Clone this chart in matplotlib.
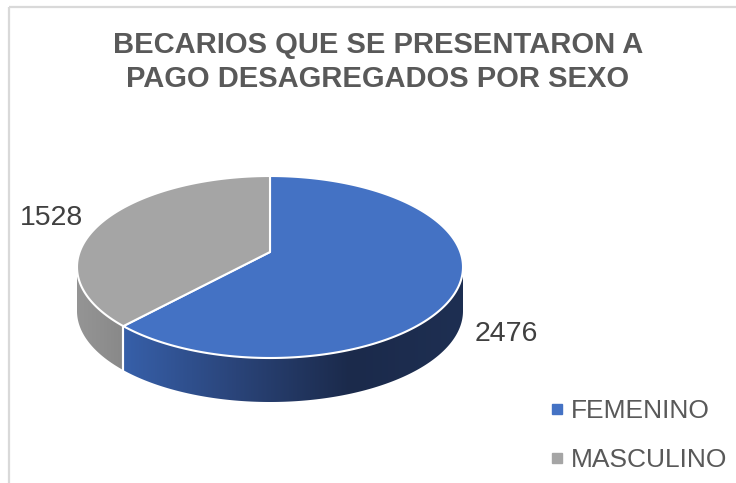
import numpy as np
import matplotlib
matplotlib.use("Agg")
import matplotlib.pyplot as plt
from matplotlib.patches import Polygon, Rectangle
from matplotlib.lines import Line2D
from matplotlib.colors import to_rgb

# ---- data ----
categories = ["FEMENINO", "MASCULINO"]
values = [2476, 1528]
title = "BECARIOS QUE SE PRESENTARON A\nPAGO DESAGREGADOS POR SEXO"

top_colors = ["#4472c4", "#a5a5a5"]
# wall gradient (left -> right) per slice
wall_grad = {0: ["#3760aa", "#2a4479", "#1b2a4b", "#1e2f52"],
             1: ["#959595", "#8f8f8f", "#888888"]}

W, H = 736, 483
fig = plt.figure(figsize=(W / 100, H / 100), dpi=100)
ax = fig.add_axes([0, 0, 1, 1])
ax.axis("off")

# frame
ax.add_patch(Rectangle((8.5, 6.5), 800, 600, fill=False, ec="#d9d9d9", lw=1.6))

# pie geometry (layout): ellipse centre, semi-axes, apex offset (perspective), depth
cx, cy, a, b, apex_off, depth = 270, 267, 193, 91, 15, 44
e = 2 * apex_off / (2 * b)
A = a * np.sqrt(1 - e ** 2)

def pt(theta_deg, dz=0.0):
    t = np.radians(theta_deg)
    s, c = np.sin(t), np.cos(t)
    w = 1 + e * c
    return cx + A * s / w, cy - (b * c + apex_off) / w + dz

apex = (cx, cy - apex_off)
total = float(sum(values))
bounds = np.concatenate([[0], np.cumsum(values) / total * 360.0])
vis0 = np.degrees(np.arccos(-e))
vis1 = 360 - vis0

def grad_row(stops, n):
    f = np.linspace(0, 1, n)
    cols = np.array([to_rgb(s) for s in stops])
    xp = np.linspace(0, 1, len(stops))
    return np.stack([np.interp(f, xp, cols[:, j]) for j in range(3)], axis=-1)

# side walls (visible front part), gradient image clipped to wall shape
for k in range(len(values)):
    t0, t1 = max(bounds[k], vis0), min(bounds[k + 1], vis1)
    if t1 <= t0:
        continue
    ths = np.linspace(t0, t1, 300)
    top = [pt(t) for t in ths]
    bot = [pt(t, depth) for t in ths[::-1]]
    poly = Polygon(top + bot, closed=True, fc="none", ec="none")
    ax.add_patch(poly)
    xs = [p[0] for p in top]
    ys = [p[1] for p in top + bot]
    xmin, xmax, ymin, ymax = min(xs), max(xs), min(ys), max(ys)
    img = grad_row(wall_grad[k], 400)[np.newaxis, :, :].repeat(2, axis=0)
    im = ax.imshow(img, extent=[xmin - 1, xmax + 1, ymax + 1, ymin - 1], aspect="auto",
                   interpolation="bilinear", zorder=1)
    im.set_clip_path(poly)
    for tb in (bounds[k], bounds[k + 1]):
        if vis0 < tb < vis1:
            p = pt(tb); q = pt(tb, depth)
            ax.plot([p[0], q[0]], [p[1], q[1]], color="white", lw=1.5, zorder=2)

# top faces
for k in range(len(values)):
    ths = np.linspace(bounds[k], bounds[k + 1], 300)
    pts = [apex] + [pt(t) for t in ths]
    ax.add_patch(Polygon(pts, closed=True, fc=top_colors[k], ec="white", lw=1.5,
                         joinstyle="round", zorder=3))

ax.set_xlim(0, W)
ax.set_ylim(H, 0)

# data labels
lab_font = dict(fontsize=20.5, color="#404040", family="Liberation Sans")
ax.text(52, 218, str(values[1]), ha="center", va="center", **lab_font)
ax.text(506, 334, str(values[0]), ha="center", va="center", **lab_font)

# title
ax.text(378, 62, title, ha="center", va="center", fontsize=21, fontweight="bold",
        color="#595959", family="Liberation Sans", linespacing=1.24)

# legend
handles = [Line2D([], [], ls="none", marker="s", ms=6.5, mfc=c, mec=c) for c in top_colors]
leg = ax.legend(handles, categories, loc="upper left", bbox_to_anchor=(550 / W, 1 - 399 / H),
                frameon=False, handlelength=0.5, handletextpad=0.3, labelspacing=0.95,
                prop=dict(family="Liberation Sans", size=19), labelcolor="#595959",
                borderaxespad=0, borderpad=0)

fig.savefig("out.png", dpi=100, facecolor="white")
